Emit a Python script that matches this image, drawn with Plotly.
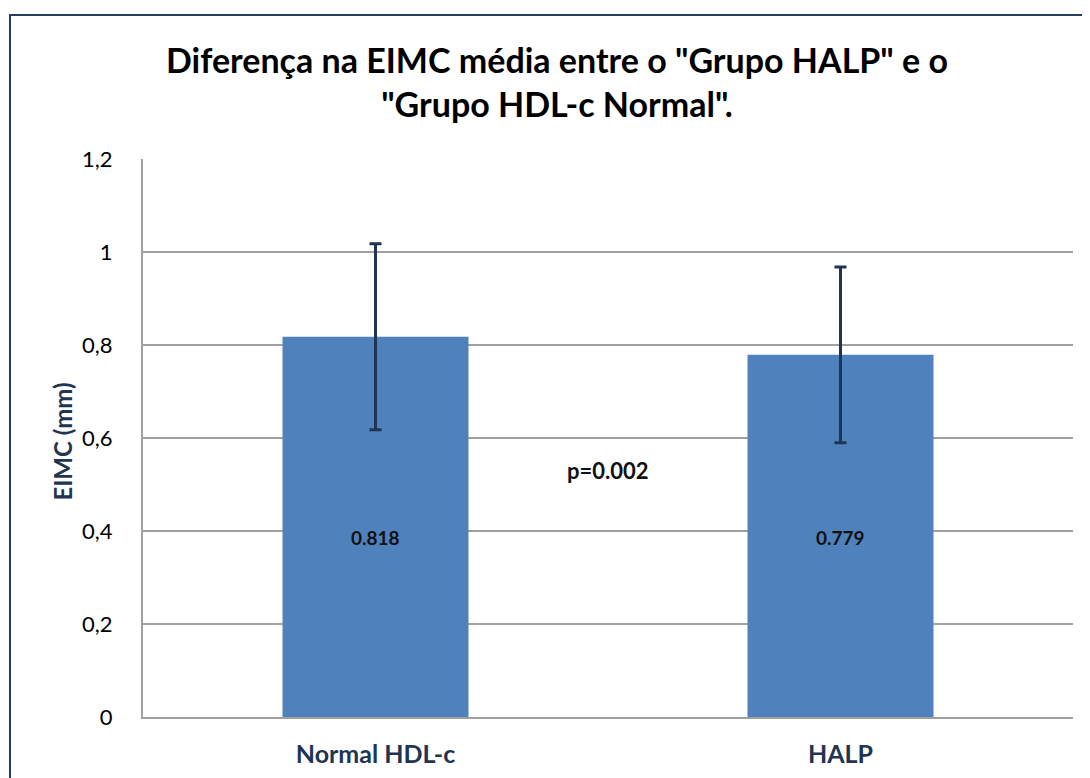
import plotly.graph_objects as go

categories = ["Normal HDL-c", "HALP"]
means = [0.818, 0.779]
sd = [0.200, 0.189]
value_labels = ["0.818", "0.779"]
p_text = "p=0.002"
y_title = "EIMC (mm)"
y_ticks = [0, 0.2, 0.4, 0.6, 0.8, 1.0, 1.2]
y_tick_labels = ["0", "0,2", "0,4", "0,6", "0,8", "1", "1,2"]

OFF = 8  # page body margin offset
W, H = 1090 - OFF, 778 - OFF
L, T = 143 - OFF, 159 - OFF
pw, ph = 930, 558
R, B = W - L - pw, H - T - ph

font_fam = "Lato, 'Noto Sans', sans-serif"
navy = "#1F3552"

fig = go.Figure()
fig.add_trace(go.Bar(
    x=categories, y=means, width=0.4,
    marker=dict(color="#4F81BD", line=dict(width=0)),
    error_y=dict(type="data", array=sd, visible=True, color=navy, thickness=3, width=6),
    showlegend=False, hoverinfo="skip",
))

for c, lab in zip(categories, value_labels):
    fig.add_annotation(x=c, y=0.385, text="<b>" + lab + "</b>", showarrow=False,
                       font=dict(family=font_fam, size=19, color="#111111"))
fig.add_annotation(x=0.5, y=0.531, xref="x", text="<b>" + p_text + "</b>", showarrow=False,
                   font=dict(family=font_fam, size=22, color="#111111"))

# y-axis title as a label on an invisible vertical line shape
xt = (62 - OFF - L) / pw
fig.add_shape(type="line", xref="paper", yref="paper",
              x0=xt, x1=xt, y0=(717 - 500) / ph, y1=(717 - 383) / ph,
              line=dict(color="rgba(0,0,0,0)", width=1),
              label=dict(text="<b>" + y_title + "</b>", textangle=-90,
                         textposition="middle", xanchor="center", yanchor="middle",
                         padding=0,
                         font=dict(family=font_fam, size=24, color=navy)))

# outer frame (chart border, partially cropped)
fig.add_shape(type="rect", xref="paper", yref="paper",
              x0=(10 - OFF - L) / pw, x1=(W + 20 - L) / pw,
              y0=-(H + 20 - T - ph) / ph, y1=1 + (T - (15 - OFF)) / ph,
              line=dict(color="#243F60", width=2), layer="below")

fig.update_layout(
    width=W, height=H,
    margin=dict(l=L, r=R, t=T, b=B, autoexpand=False),
    paper_bgcolor="white", plot_bgcolor="white",
    title=dict(text="<b>Diferença na EIMC média entre o \"Grupo HALP\" e o<br>\"Grupo HDL-c Normal\".</b>",
               x=(557 - OFF) / W, xanchor="center", y=1 - (73 - OFF) / H, yanchor="middle",
               font=dict(family=font_fam, size=34, color="#000000")),
    bargap=0.6,
)
fig.update_xaxes(
    tickfont=dict(family=font_fam, size=25, color=navy),
    tickprefix="<b>", ticksuffix="</b>",
    showline=True, linecolor="#A0A0A0", linewidth=2,
    showgrid=False, ticks="", ticklen=0, ticklabelstandoff=14,
)
fig.update_yaxes(
    range=[0, 1.2], tickvals=y_ticks, ticktext=y_tick_labels,
    tickfont=dict(family=font_fam, size=22, color="#000000"),
    showgrid=True, gridcolor="#A0A0A0", gridwidth=2,
    showline=True, linecolor="#A0A0A0", linewidth=2,
    zeroline=False, ticks="", ticklabelstandoff=24,
)

fig.write_html("out.html")
